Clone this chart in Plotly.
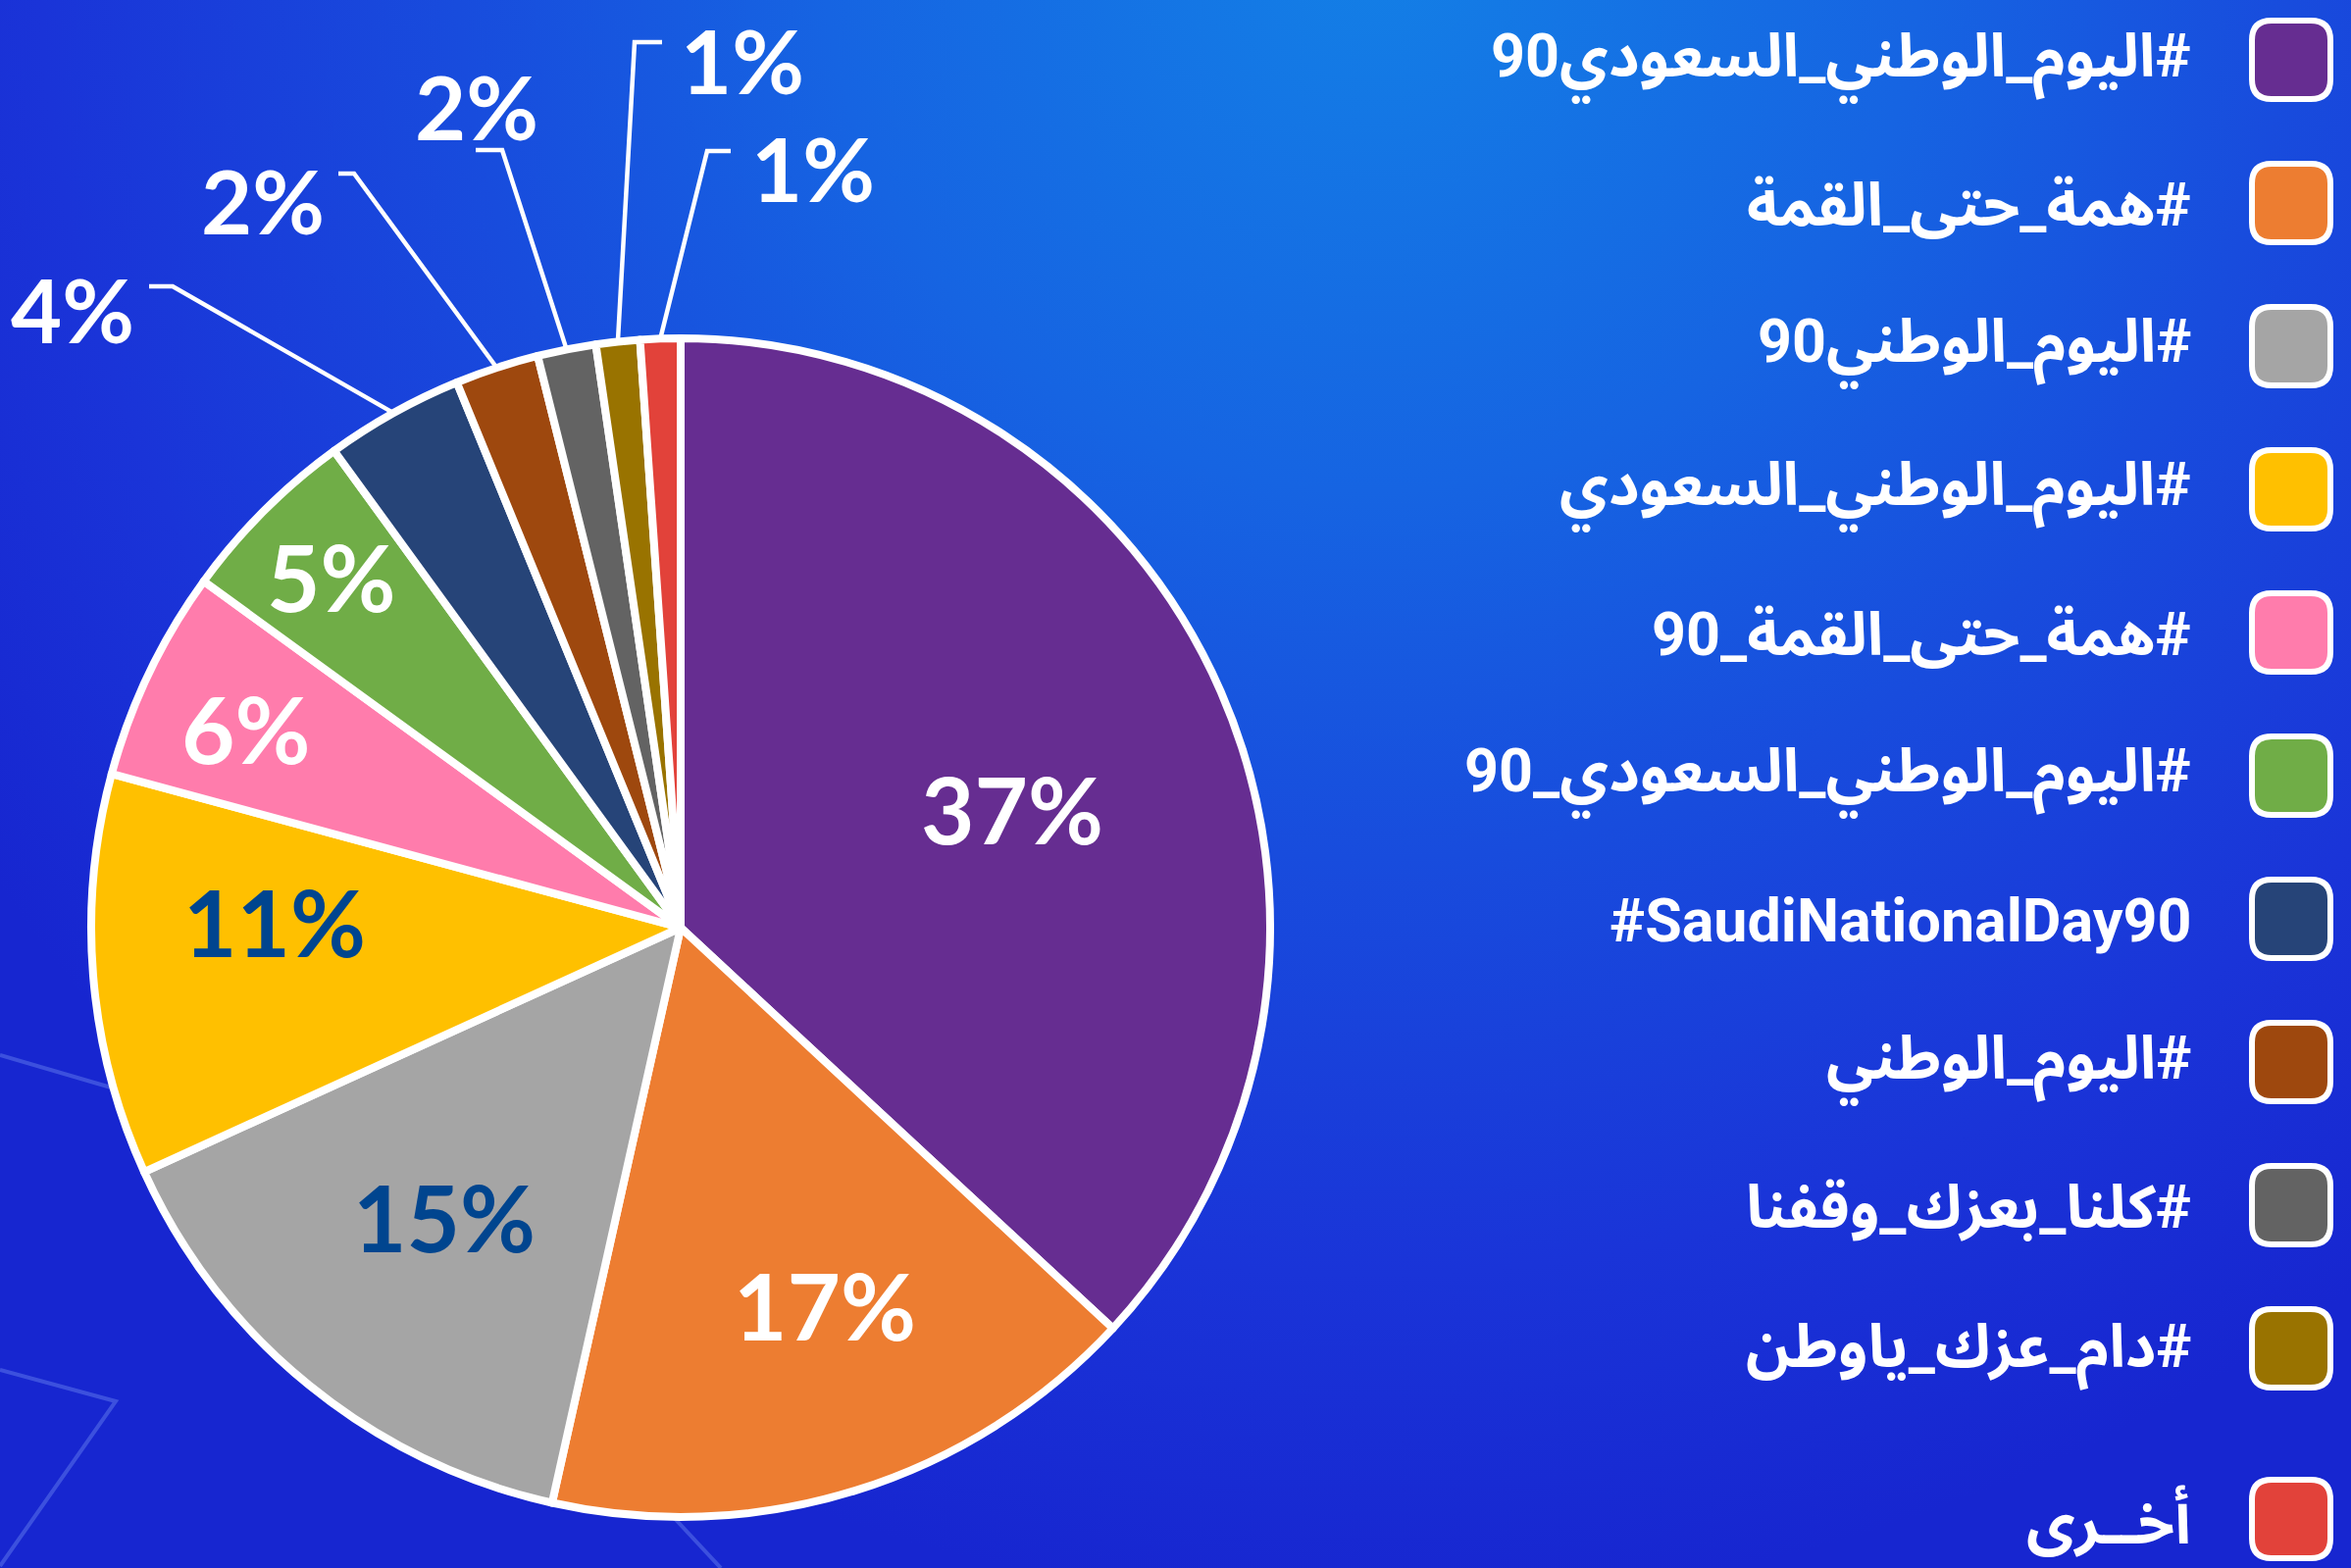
import math
import base64
import plotly.graph_objects as go

W, H = 2397, 1599

# ---------------- data ----------------
LABELS = [
    "#اليوم_الوطني_السعودي90",
    "#همة_حتى_القمة",
    "#اليوم_الوطني90",
    "#اليوم_الوطني_السعودي",
    "#همة_حتى_القمة_90",
    "#اليوم_الوطني_السعودي_90",
    "#SaudiNationalDay90",
    "#اليوم_الوطني",
    "#كلنا_بعزك_وقفنا",
    "#دام_عزك_ياوطن",
    "أخــرى",
]
VALUES = [36.9, 16.6, 14.7, 11.0, 5.8, 5.0, 3.8, 2.3, 1.6, 1.2, 1.1]
COLORS = ["#662D91", "#ED7D31", "#A5A5A5", "#FFC000", "#FF7CAC", "#70AD47",
          "#264478", "#9E480E", "#636363", "#997300", "#E2423A"]

# ---------------- style ----------------
PIE_CX, PIE_CY, PIE_R = 694, 946, 601          # pixel geometry of the pie
LABEL_FONT = "Lato, 'Open Sans', sans-serif"
LEGEND_FONT = "Roboto, 'Noto Sans Arabic', 'Noto Kufi Arabic', 'DejaVu Sans', sans-serif"
DARK_LABEL = "#00458F"
# inside labels: (radial fraction, angle delta in degrees, text colour)
INSIDE = {0: (0.600, 3.2, "white"), 1: (0.679, -3.8, "white"), 2: (0.627, 0.6, DARK_LABEL),
          3: (0.689, 6.1, DARK_LABEL), 4: (0.814, -0.4, "white"), 5: (0.845, 0.5, "white")}
# outside labels: elbow offset from centre (px), tick length (px), label offset from tick end (px)
OUTSIDE = {6: ((-518, -654), -24, (-78, 19)),
           7: ((-333, -769), -16, (-77, 23)),
           8: ((-182, -793), -27, (1, -49)),
           9: ((-47, -903), 28, (82, 14)),
           10: ((27, -792), 24, (84, 13))}
LEG_X_TEXT = 2236
LEG_SW_X0, LEG_SW = 2296, 80
LEG_Y0, LEG_DY, LEG_LAST_Y = 61, 146, 1549


def px(x):
    return x / W


def py(y):
    return 1 - y / H


# background as svg gradient
svg = f'''<svg xmlns="http://www.w3.org/2000/svg" width="{W}" height="{H}" viewBox="0 0 {W} {H}">
<defs><radialGradient id="g" cx="1400" cy="-60" r="1700" gradientUnits="userSpaceOnUse">
<stop offset="0" stop-color="#1380E6"/><stop offset="0.33" stop-color="#1664E2"/>
<stop offset="0.55" stop-color="#184CDD"/><stop offset="0.8" stop-color="#1A34D8"/>
<stop offset="1" stop-color="#1726D0"/></radialGradient></defs>
<rect width="{W}" height="{H}" fill="url(#g)"/>
<g fill="none" stroke="#6A86F0" stroke-opacity="0.45" stroke-width="4">
<polyline points="0,1076 120,1111"/>
<polyline points="0,1397 118,1429 0,1597"/>
<polyline points="680,1540 735,1599"/>
</g></svg>'''
bg_uri = "data:image/svg+xml;base64," + base64.b64encode(svg.encode()).decode()

fig = go.Figure()
fig.add_trace(go.Pie(
    labels=LABELS, values=VALUES, sort=False, direction="clockwise", rotation=0,
    marker=dict(colors=COLORS, line=dict(color="white", width=8)),
    textinfo="none", hoverinfo="skip", showlegend=False,
    domain=dict(x=[px(PIE_CX - PIE_R), px(PIE_CX + PIE_R)],
                y=[py(PIE_CY + PIE_R), py(PIE_CY - PIE_R)]),
))

total = sum(VALUES)
annotations = []
shapes = []
cum = 0.0
for i, v in enumerate(VALUES):
    mid = (cum + v / 2) / total * 360
    cum += v
    pct = f"{round(v / total * 100)}%"
    if i in INSIDE:
        rf, da, col = INSIDE[i]
        a = math.radians(mid + da)
        x = PIE_CX + rf * PIE_R * math.sin(a)
        y = PIE_CY - rf * PIE_R * math.cos(a)
        annotations.append(dict(x=px(x), y=py(y + 4), xref="paper", yref="paper", text=pct,
                                showarrow=False, xanchor="center", yanchor="middle",
                                font=dict(family=LABEL_FONT, size=94, color=col, weight="bold")))
    elif i in OUTSIDE:
        (ex, ey), tick, (lx, ly) = OUTSIDE[i]
        a = math.radians(mid)
        sx = PIE_CX + PIE_R * math.sin(a)
        sy = PIE_CY - PIE_R * math.cos(a)
        exx, eyy = PIE_CX + ex, PIE_CY + ey
        tx = exx + tick
        path = f"M {px(sx)} {py(sy)} L {px(exx)} {py(eyy)} L {px(tx)} {py(eyy)}"
        shapes.append(dict(type="path", xref="paper", yref="paper", path=path,
                           line=dict(color="white", width=4.5)))
        annotations.append(dict(x=px(tx + lx), y=py(eyy + ly + 4), xref="paper", yref="paper",
                                text=pct, showarrow=False, xanchor="center", yanchor="middle",
                                font=dict(family=LABEL_FONT, size=90, color="white", weight="bold")))

# custom legend (swatch on the right, right-aligned text)
rad = 20
for i, (lab, col) in enumerate(zip(LABELS, COLORS)):
    cy = LEG_Y0 + i * LEG_DY if i < len(LABELS) - 1 else LEG_LAST_Y
    x0, x1 = LEG_SW_X0, LEG_SW_X0 + LEG_SW
    y0, y1 = cy - LEG_SW / 2, cy + LEG_SW / 2
    p = (f"M {px(x0 + rad)} {py(y0)} L {px(x1 - rad)} {py(y0)} Q {px(x1)} {py(y0)} {px(x1)} {py(y0 + rad)} "
         f"L {px(x1)} {py(y1 - rad)} Q {px(x1)} {py(y1)} {px(x1 - rad)} {py(y1)} "
         f"L {px(x0 + rad)} {py(y1)} Q {px(x0)} {py(y1)} {px(x0)} {py(y1 - rad)} "
         f"L {px(x0)} {py(y0 + rad)} Q {px(x0)} {py(y0)} {px(x0 + rad)} {py(y0)} Z")
    shapes.append(dict(type="path", xref="paper", yref="paper", path=p, fillcolor=col,
                       line=dict(color="white", width=6)))
    is_latin = lab.isascii()
    txt = lab if is_latin else "\u200f" + lab
    annotations.append(dict(x=px(LEG_X_TEXT), y=py(cy + 2), xref="paper", yref="paper", text=txt,
                            showarrow=False, xanchor="right", yanchor="middle",
                            font=dict(family=LEGEND_FONT, size=61, color="white", weight="bold")))

fig.update_layout(
    width=W, height=H, margin=dict(l=0, r=0, t=0, b=0),
    paper_bgcolor="#1A3AD8", plot_bgcolor="rgba(0,0,0,0)",
    images=[dict(source=bg_uri, xref="paper", yref="paper", x=0, y=1, sizex=1, sizey=1,
                 xanchor="left", yanchor="top", sizing="stretch", layer="below")],
    annotations=annotations, shapes=shapes,
)
fig.write_html("out.html", config={"displayModeBar": False},
               post_script="document.body.style.margin='0';document.body.style.overflow='hidden';"
                           "document.body.style.background='#1A3AD8';")
